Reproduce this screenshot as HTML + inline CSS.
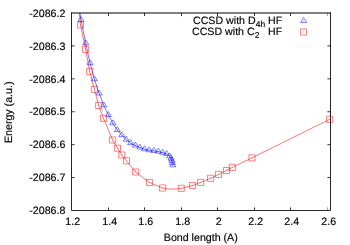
<!DOCTYPE html>
<html><head><meta charset="utf-8"><title>plot</title>
<style>
html,body{margin:0;padding:0;background:#fff;}
svg{display:block;will-change:transform;transform:translateZ(0);}
text{font-family:"Liberation Sans",sans-serif;fill:#000;stroke:#000;stroke-width:0.18px;text-rendering:geometricPrecision;}
</style></head>
<body>
<svg width="350" height="245" viewBox="0 0 350 245">
<defs><clipPath id="c"><rect x="71.50" y="13.00" width="259.00" height="197.50"/></clipPath></defs>
<g stroke="#000" stroke-width="0.80" fill="none">
<path d="M71.50 45.92h3.10M330.50 45.92h-3.10"/>
<path d="M71.50 78.83h3.10M330.50 78.83h-3.10"/>
<path d="M71.50 111.75h3.10M330.50 111.75h-3.10"/>
<path d="M71.50 144.67h3.10M330.50 144.67h-3.10"/>
<path d="M71.50 177.58h3.10M330.50 177.58h-3.10"/>
<path d="M108.50 210.50v-3.10M108.50 13.00v3.10"/>
<path d="M144.50 210.50v-3.10M144.50 13.00v3.10"/>
<path d="M181.50 210.50v-3.10M181.50 13.00v3.10"/>
<path d="M217.50 210.50v-3.10M217.50 13.00v3.10"/>
<path d="M254.50 210.50v-3.10M254.50 13.00v3.10"/>
<path d="M290.50 210.50v-3.10M290.50 13.00v3.10"/>
<path stroke-opacity="0.45" d="M327.50 210.50v-3.10M327.50 13.00v3.10"/>
</g>
<g font-size="10.65" opacity="0.99">
<text x="65.4" y="16.70" text-anchor="end">-2086.2</text>
<text x="65.4" y="49.62" text-anchor="end">-2086.3</text>
<text x="65.4" y="82.53" text-anchor="end">-2086.4</text>
<text x="65.4" y="115.45" text-anchor="end">-2086.5</text>
<text x="65.4" y="148.37" text-anchor="end">-2086.6</text>
<text x="65.4" y="181.28" text-anchor="end">-2086.7</text>
<text x="65.4" y="214.20" text-anchor="end">-2086.8</text>
<text x="72.70" y="225.2" text-anchor="middle">1.2</text>
<text x="109.70" y="225.2" text-anchor="middle">1.4</text>
<text x="145.70" y="225.2" text-anchor="middle">1.6</text>
<text x="182.70" y="225.2" text-anchor="middle">1.8</text>
<text x="218.70" y="225.2" text-anchor="middle">2</text>
<text x="255.70" y="225.2" text-anchor="middle">2.2</text>
<text x="291.70" y="225.2" text-anchor="middle">2.4</text>
<text x="328.70" y="225.2" text-anchor="middle">2.6</text>
<text x="200.8" y="240.8" text-anchor="middle">Bond length (A)</text>
<text transform="translate(12.3 112.3) rotate(-90)" text-anchor="middle">Energy (a.u.)</text>
<text x="193.0" y="23.8">CCSD with D<tspan font-size="8.5" dy="3">4h</tspan><tspan x="268.1" dy="-3">HF</tspan></text>
<text x="192.0" y="34.8">CCSD with C<tspan font-size="8.5" dy="3">2</tspan><tspan x="268.1" dy="-3">HF</tspan></text>
</g>
<g clip-path="url(#c)" fill="none" stroke-width="0.55" stroke-linejoin="miter">
<polyline stroke="#00f" points="79.0,5.0 81.0,20.0 85.7,43.2 90.0,63.2 94.4,79.3 99.2,93.5 103.7,105.3 108.4,115.0 112.8,123.3 117.3,130.0 121.8,135.2 126.3,139.7 130.7,143.1 135.4,145.5 139.9,147.5 144.5,149.2 149.2,150.2 153.8,150.9 158.4,151.6 162.7,152.7 166.7,154.0 169.7,156.4 171.1,158.6 171.8,160.6 172.3,162.8 172.8,165.3"/>
<polyline stroke="#f00" points="78.6,5.0 80.5,25.0 85.6,49.4 89.7,71.3 94.4,89.4 98.7,105.5 103.5,118.3 112.6,140.0 117.5,148.2 121.8,155.0 126.5,160.8 135.7,172.0 149.5,182.5 162.6,188.0 167.3,188.8 172.0,189.2 176.6,188.9 181.2,188.3 192.5,185.5 200.6,182.4 210.6,178.3 218.5,174.4 226.5,170.5 232.3,167.4 251.9,157.9 329.7,119.3"/>
</g>
<g fill="none" stroke-width="0.50" stroke-linejoin="round">
<path stroke="#00f" d="M81.00 16.57L77.94 21.53L84.06 21.53ZM85.70 39.77L82.64 44.73L88.76 44.73ZM90.00 59.77L86.94 64.73L93.06 64.73ZM94.40 75.87L91.34 80.83L97.46 80.83ZM99.20 90.07L96.14 95.03L102.26 95.03ZM103.70 101.87L100.64 106.83L106.76 106.83ZM108.40 111.57L105.34 116.53L111.46 116.53ZM112.80 119.87L109.74 124.83L115.86 124.83ZM117.30 126.57L114.24 131.53L120.36 131.53ZM121.80 131.77L118.74 136.73L124.86 136.73ZM126.30 136.27L123.24 141.23L129.36 141.23ZM130.70 139.67L127.64 144.63L133.76 144.63ZM135.40 142.07L132.34 147.03L138.46 147.03ZM139.90 144.07L136.84 149.03L142.96 149.03ZM144.50 145.77L141.44 150.73L147.56 150.73ZM149.20 146.77L146.14 151.73L152.26 151.73ZM153.80 147.47L150.74 152.43L156.86 152.43ZM158.40 148.17L155.34 153.13L161.46 153.13ZM162.70 149.27L159.64 154.23L165.76 154.23ZM166.70 150.57L163.64 155.53L169.76 155.53ZM169.70 152.97L166.64 157.93L172.76 157.93ZM171.10 155.17L168.04 160.13L174.16 160.13ZM171.80 157.17L168.74 162.13L174.86 162.13ZM172.30 159.37L169.24 164.33L175.36 164.33ZM172.80 161.87L169.74 166.83L175.86 166.83ZM303.60 17.57L300.54 22.53L306.66 22.53Z"/>
<path stroke="#f00" d="M77.44 21.94h6.12v6.12h-6.12ZM82.54 46.34h6.12v6.12h-6.12ZM86.64 68.24h6.12v6.12h-6.12ZM91.34 86.34h6.12v6.12h-6.12ZM95.64 102.44h6.12v6.12h-6.12ZM100.44 115.24h6.12v6.12h-6.12ZM109.54 136.94h6.12v6.12h-6.12ZM114.44 145.14h6.12v6.12h-6.12ZM118.74 151.94h6.12v6.12h-6.12ZM123.44 157.74h6.12v6.12h-6.12ZM132.64 168.94h6.12v6.12h-6.12ZM146.44 179.44h6.12v6.12h-6.12ZM159.54 184.94h6.12v6.12h-6.12ZM178.14 185.24h6.12v6.12h-6.12ZM189.44 182.44h6.12v6.12h-6.12ZM197.54 179.34h6.12v6.12h-6.12ZM207.54 175.24h6.12v6.12h-6.12ZM215.44 171.34h6.12v6.12h-6.12ZM223.44 167.44h6.12v6.12h-6.12ZM229.24 164.34h6.12v6.12h-6.12ZM248.89 154.84h6.12v6.12h-6.12ZM326.64 116.24h6.12v6.12h-6.12ZM300.44 28.94h6.12v6.12h-6.12Z"/>
</g>
<g stroke="none">
<path fill="#00f" fill-opacity="0.5" d="M80.60 19.60h.8v.8h-.8zM85.30 42.80h.8v.8h-.8zM89.60 62.80h.8v.8h-.8zM94.00 78.90h.8v.8h-.8zM98.80 93.10h.8v.8h-.8zM103.30 104.90h.8v.8h-.8zM108.00 114.60h.8v.8h-.8zM112.40 122.90h.8v.8h-.8zM116.90 129.60h.8v.8h-.8zM121.40 134.80h.8v.8h-.8zM125.90 139.30h.8v.8h-.8zM130.30 142.70h.8v.8h-.8zM135.00 145.10h.8v.8h-.8zM139.50 147.10h.8v.8h-.8zM144.10 148.80h.8v.8h-.8zM148.80 149.80h.8v.8h-.8zM153.40 150.50h.8v.8h-.8zM158.00 151.20h.8v.8h-.8zM162.30 152.30h.8v.8h-.8zM166.30 153.60h.8v.8h-.8zM169.30 156.00h.8v.8h-.8zM170.70 158.20h.8v.8h-.8zM171.40 160.20h.8v.8h-.8zM171.90 162.40h.8v.8h-.8zM172.40 164.90h.8v.8h-.8zM303.20 20.60h.8v.8h-.8z"/>
<path fill="#f00" fill-opacity="0.5" d="M80.10 24.60h.8v.8h-.8zM85.20 49.00h.8v.8h-.8zM89.30 70.90h.8v.8h-.8zM94.00 89.00h.8v.8h-.8zM98.30 105.10h.8v.8h-.8zM103.10 117.90h.8v.8h-.8zM112.20 139.60h.8v.8h-.8zM117.10 147.80h.8v.8h-.8zM121.40 154.60h.8v.8h-.8zM126.10 160.40h.8v.8h-.8zM135.30 171.60h.8v.8h-.8zM149.10 182.10h.8v.8h-.8zM162.20 187.60h.8v.8h-.8zM180.80 187.90h.8v.8h-.8zM192.10 185.10h.8v.8h-.8zM200.20 182.00h.8v.8h-.8zM210.20 177.90h.8v.8h-.8zM218.10 174.00h.8v.8h-.8zM226.10 170.10h.8v.8h-.8zM231.90 167.00h.8v.8h-.8zM251.55 157.50h.8v.8h-.8zM329.30 118.90h.8v.8h-.8zM303.10 31.60h.8v.8h-.8z"/>
</g>
<g stroke="#000" fill="none" stroke-linecap="square">
<path stroke-width="1.05" d="M71.50 13.00H330.50"/>
<path stroke-width="0.85" d="M71.50 13.00V210.50H330.50V13.00"/>
</g>
</svg>
</body></html>
